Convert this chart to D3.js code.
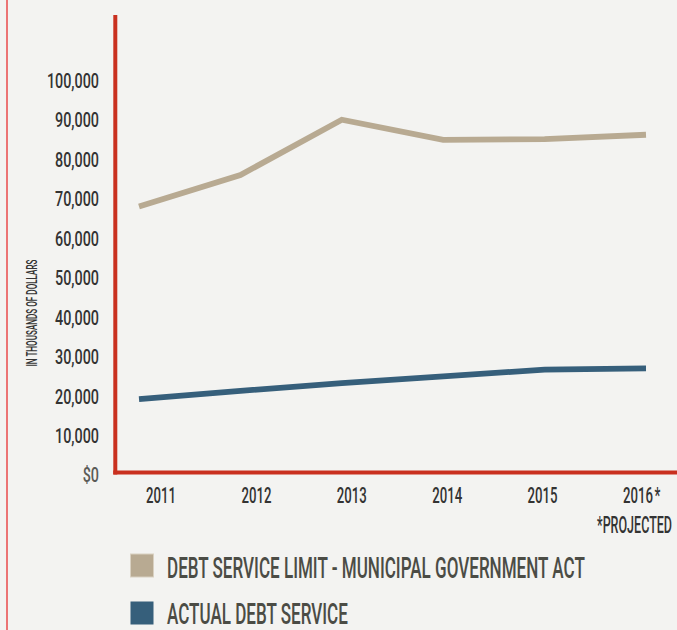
<!DOCTYPE html>
<html>
<head>
<meta charset="utf-8">
<script src="https://cdn.jsdelivr.net/npm/d3@7"></script>
<style>
  html, body { margin: 0; padding: 0; background: #f3f3f1; }
  svg { display: block; }
  text { font-family: Roboto, "DejaVu Sans Condensed", sans-serif; font-weight: 500; }
</style>
</head>
<body>
<svg id="chart" width="677" height="630"></svg>
<script>
// ---- data ----
const years = ["2011", "2012", "2013", "2014", "2015", "2016"];
const projected = [false, false, false, false, false, true];
const debtLimit = [68000, 76000, 90000, 84900, 85100, 86200];
const actualDebt = [19200, 21300, 23300, 25000, 26700, 27000];
const yTicks = [0, 10000, 20000, 30000, 40000, 50000, 60000, 70000, 80000, 90000, 100000];
const yTickLabels = ["$0", "10,000", "20,000", "30,000", "40,000", "50,000", "60,000", "70,000", "80,000", "90,000", "100,000"];
const seriesNames = ["DEBT SERVICE LIMIT - MUNICIPAL GOVERNMENT ACT", "ACTUAL DEBT SERVICE"];
const seriesColors = ["#b8aa92", "#365f7b"];
const yAxisTitle = "IN THOUSANDS OF DOLLARS";
const footnote = "*PROJECTED";

// ---- layout ----
const svg = d3.select("#chart");
const W = 677, H = 630;
svg.append("rect").attr("width", W).attr("height", H).attr("fill", "#f3f3f1");

// horizontal squeeze so a reference string reaches a target width
function squeeze(str, fs, target) {
  const t = svg.append("text").attr("font-size", fs).text(str);
  const w = t.node().getComputedTextLength();
  t.remove();
  return target / w;
}

// thin pink frame line at left
svg.append("line").attr("x1", 7).attr("x2", 7).attr("y1", 0).attr("y2", H)
  .attr("stroke", "#ec7474").attr("stroke-width", 2);

const y = d3.scaleLinear().domain([0, 100000]).range([475, 80.3]);
const xLine = d3.scalePoint().domain(years).range([139, 646]);
const xLabel = d3.scalePoint().domain(years).range([161, 638]);

// series lines
const series = [debtLimit, actualDebt];
const line = d3.line().x((d, i) => xLine(years[i])).y(d => y(d));
series.forEach((vals, si) => {
  svg.append("path").datum(vals)
    .attr("d", line)
    .attr("fill", "none")
    .attr("stroke", seriesColors[si])
    .attr("stroke-width", 5.8)
    .attr("stroke-linejoin", "miter");
});

// red axes
const axisColor = "#c9301f";
svg.append("line").attr("x1", 115.3).attr("x2", 115.3).attr("y1", 15).attr("y2", 474.5)
  .attr("stroke", axisColor).attr("stroke-width", 4);
svg.append("line").attr("x1", 113.3).attr("x2", W).attr("y1", 472.5).attr("y2", 472.5)
  .attr("stroke", axisColor).attr("stroke-width", 4);

// y tick labels
const yFs = 21;
const ySx = squeeze("90,000", yFs, 44);
svg.append("g").selectAll("text").data(yTicks).join("text")
  .attr("transform", d => `translate(99,${y(d) + 0.355 * yFs}) scale(${ySx},1)`)
  .attr("text-anchor", "end")
  .attr("font-size", yFs)
  .attr("fill", (d, i) => i === 0 ? "#5b5b57" : "#333333")
  .text((d, i) => yTickLabels[i]);

// y axis title
const tFs = 14;
const tSx = squeeze(yAxisTitle, tFs, 107);
svg.append("text")
  .attr("transform", `translate(36.5,313) rotate(-90) scale(${tSx},1)`)
  .attr("text-anchor", "middle")
  .attr("font-size", tFs)
  .attr("font-weight", 400)
  .attr("fill", "#333333")
  .text(yAxisTitle);

// x labels
const xFs = 22.5;
const xSx = squeeze("2012", xFs, 30);
const xg = svg.append("g");
years.forEach((yr, i) => {
  const t = xg.append("text")
    .attr("transform", `translate(${xLabel(yr)},503.3) scale(${xSx},1)`)
    .attr("text-anchor", "middle")
    .attr("font-size", xFs)
    .attr("fill", "#333333")
    .text(yr);
  if (projected[i]) {
    const w = t.node().getComputedTextLength() * xSx;
    xg.append("text")
      .attr("transform", `translate(${xLabel(yr) + w / 2 + 1.5},503.3) scale(${xSx},1)`)
      .attr("font-size", xFs)
      .attr("font-weight", 300)
      .attr("fill", "#333333")
      .text("*");
  }
});
const fFs = 24.5;
const fSx = squeeze(footnote, fFs, 75);
svg.append("text")
  .attr("transform", `translate(672,532.5) scale(${fSx},1)`)
  .attr("text-anchor", "end")
  .attr("font-size", fFs)
  .attr("fill", "#333333")
  .text(footnote);

// legend
const lFs = 29;
const lSx = squeeze(seriesNames[0], lFs, 418);
const lg = svg.append("g");
seriesNames.forEach((name, i) => {
  const top = 554 + i * 47.5;
  lg.append("rect").attr("x", 130.5).attr("y", top).attr("width", 23).attr("height", 23)
    .attr("fill", seriesColors[i])
    .attr("stroke", i === 0 ? "#d9d1c2" : "none").attr("stroke-width", 1);
  lg.append("text")
    .attr("transform", `translate(167,${top + 23.5 - i * 1.5}) scale(${lSx},1)`)
    .attr("font-size", lFs)
    .attr("fill", "#4b4c45")
    .text(name);
});
</script>
</body>
</html>
